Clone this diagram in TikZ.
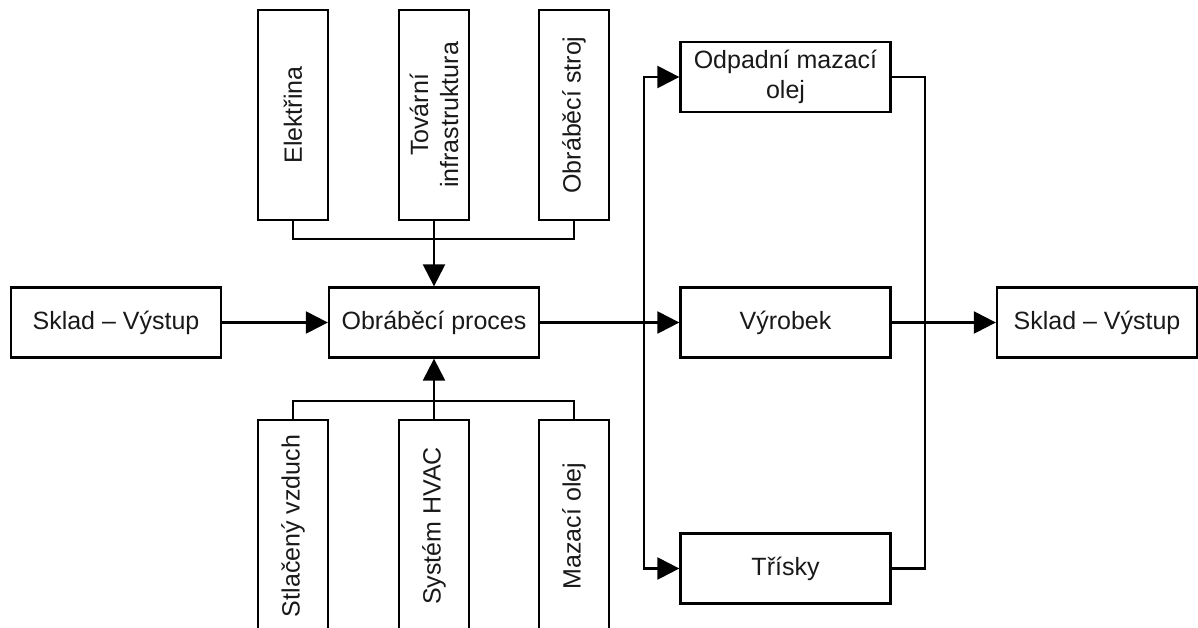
\documentclass[tikz,border=0pt]{standalone}
\usepackage{fontspec}
\setmainfont{Liberation Sans}
\usetikzlibrary{arrows.meta}
\begin{document}
\begin{tikzpicture}[x=1pt,y=-1pt,
  lbl/.style={font=\fontsize{25}{30}\selectfont,align=center,text=black!90},
  box/.style={lbl,draw,line width=2.3pt,minimum width=210pt,minimum height=70pt,inner sep=0pt},
  vbox/.style={lbl,draw,line width=2.3pt,rotate=90,minimum height=70pt,inner sep=0pt},
  conn/.style={line width=2.3pt},
  arr/.style={conn,-{Triangle[length=22pt,width=22pt]}}]
\useasboundingbox (0,0) rectangle (1198,627);
\clip (0,0) rectangle (1198,627);
% left and central
\node[box] (skl) at (116,322.5) {Sklad -- Výstup};
\node[box] (proc) at (434,322.5) {Obráběcí proces};
% top inputs
\node[vbox,minimum width=210pt] (el) at (293,115) {Elektřina};
\node[vbox,minimum width=210pt] (ti) at (434,115) {Tovární\\infrastruktura};
\node[vbox,minimum width=210pt] (os) at (574,115) {Obráběcí stroj};
% bottom inputs
\node[vbox,minimum width=212pt] (sv) at (293,526) {Stlačený vzduch};
\node[vbox,minimum width=212pt] (hv) at (434,526) {Systém HVAC};
\node[vbox,minimum width=212pt] (mo) at (574,526) {Mazací olej};
% outputs
\node[box] (od) at (785.5,77) {Odpadní mazací\\olej};
\node[box] (vy) at (785.5,322.5) {Výrobek};
\node[box] (tr) at (785.5,568.5) {Třísky};
\node[box,minimum width=200pt] (skr) at (1097,322.5) {Sklad -- Výstup};
\coordinate (lx) at (644,322.5);
\coordinate (rx) at (925,322.5);
% connectors top
\draw[conn] (el.west) -- ++(0,18) -| (os.west);
\draw[arr] (ti.west) -- (proc.north);
% connectors bottom
\draw[conn] (sv.east) -- ++(0,-18) -| (mo.east);
\draw[arr] (hv.east) -- (proc.south);
% main flow
\draw[arr] (skl.east) -- (proc.west);
\draw[arr] (proc.east) -- (vy.west);
\draw[arr] (lx) |- (od.west);
\draw[arr] (lx) |- (tr.west);
\draw[conn] (od.east) -| (rx) |- (tr.east);
\draw[arr] (vy.east) -- (skr.west);
\end{tikzpicture}
\end{document}
